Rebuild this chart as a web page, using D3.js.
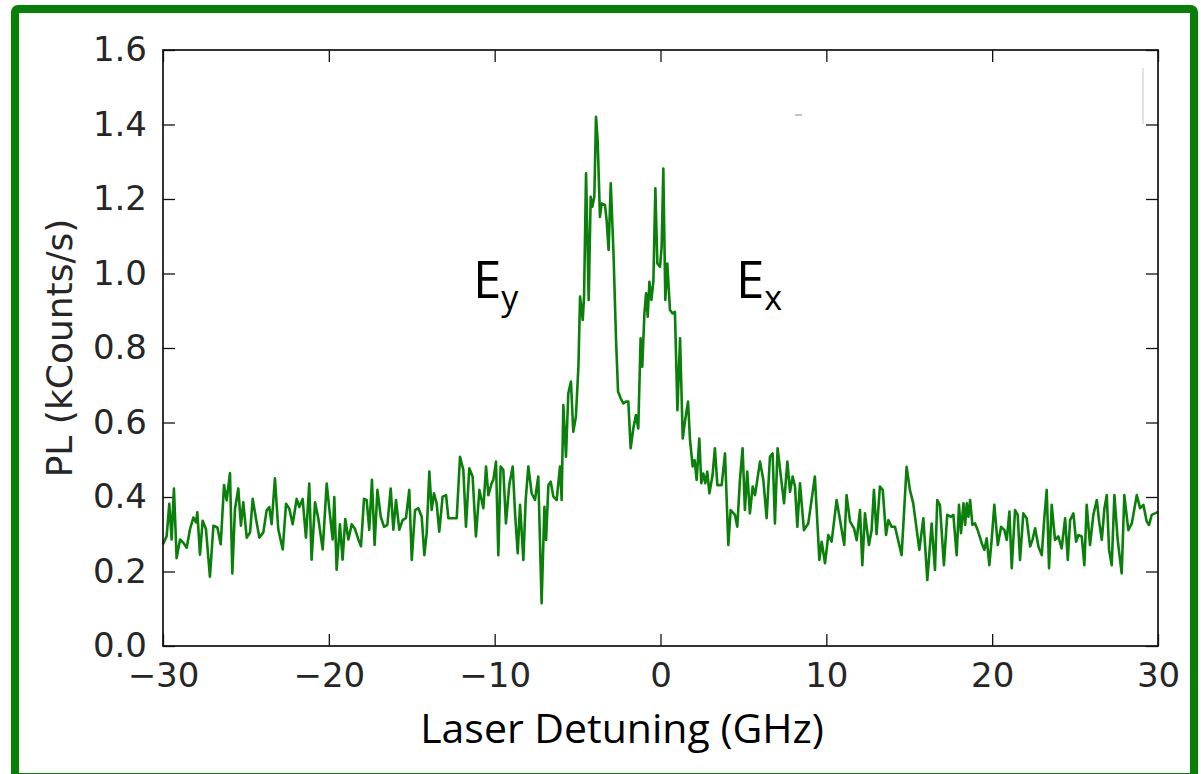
<!DOCTYPE html>
<html>
<head>
<meta charset="utf-8">
<script src="https://cdn.jsdelivr.net/npm/d3@7"></script>
<style>
  body { margin: 0; background: #fff; }
  svg { display: block; }
</style>
</head>
<body>
<svg id="chart"></svg>
<script>
var width = 1201, height = 774;

// PL scan: [detuning (GHz), PL (kCounts/s)]
var scan = [
  [-30,0.273],[-29.78,0.295],[-29.62,0.382],[-29.48,0.286],[-29.34,0.423],[-29.18,0.236],[-28.97,0.286],[-28.77,0.277],
  [-28.57,0.264],[-28.37,0.314],[-28.17,0.345],[-28.01,0.332],[-27.93,0.359],[-27.77,0.245],[-27.61,0.336],[-27.41,0.314],
  [-27.17,0.186],[-26.96,0.323],[-26.72,0.318],[-26.52,0.273],[-26.32,0.432],[-26.16,0.391],[-25.96,0.464],[-25.82,0.195],
  [-25.66,0.368],[-25.46,0.423],[-25.30,0.323],[-25.16,0.386],[-24.95,0.291],[-24.75,0.305],[-24.59,0.395],[-24.39,0.341],
  [-24.19,0.291],[-23.95,0.305],[-23.75,0.364],[-23.59,0.373],[-23.45,0.327],[-23.25,0.45],[-23.05,0.314],[-22.78,0.259],
  [-22.58,0.382],[-22.38,0.368],[-22.18,0.327],[-21.94,0.395],[-21.78,0.373],[-21.58,0.395],[-21.38,0.291],[-21.18,0.436],
  [-21.04,0.232],[-20.83,0.386],[-20.63,0.341],[-20.37,0.259],[-20.13,0.436],[-19.97,0.368],[-19.77,0.286],[-19.67,0.4],
  [-19.53,0.205],[-19.33,0.327],[-19.17,0.232],[-19.01,0.341],[-18.82,0.286],[-18.62,0.327],[-18.42,0.314],[-18.22,0.286],
  [-18.06,0.268],[-17.88,0.395],
  [-17.72,0.392],[-17.56,0.312],[-17.40,0.446],[-17.24,0.271],[-17.07,0.419],[-16.87,0.347],[-16.67,0.32],[-16.47,0.325],
  [-16.27,0.423],[-16.11,0.312],[-15.95,0.392],[-15.75,0.312],[-15.55,0.338],[-15.35,0.343],[-15.15,0.419],[-15.00,0.231],
  [-14.80,0.365],[-14.60,0.37],[-14.40,0.347],[-14.24,0.244],[-14.10,0.303],[-13.94,0.468],[-13.80,0.365],[-13.66,0.41],
  [-13.50,0.383],[-13.34,0.307],[-13.14,0.401],[-12.93,0.405],[-12.79,0.343],[-12.53,0.343],[-12.29,0.343],[-12.09,0.508],
  [-11.89,0.473],[-11.73,0.32],[-11.53,0.477],[-11.33,0.455],[-11.13,0.294],[-10.92,0.419],[-10.68,0.37],[-10.52,0.482],
  [-10.38,0.405],[-10.18,0.437],[-10.08,0.446],[-9.92,0.495],[-9.78,0.244],[-9.64,0.482],[-9.48,0.473],[-9.32,0.329],
  [-9.12,0.432],[-8.91,0.482],[-8.77,0.356],[-8.61,0.249],[-8.47,0.379],[-8.27,0.231],[-8.13,0.392],[-7.97,0.482],
  [-7.77,0.41],[-7.57,0.392],[-7.37,0.455],[-7.17,0.115],[-7.00,0.374],[-6.90,0.285],[-6.76,0.432],[-6.62,0.441],
  [-6.46,0.401],[-6.26,0.392],
  [-6.06,0.482],[-5.96,0.392],[-5.86,0.647],[-5.70,0.508],[-5.56,0.678],[-5.40,0.71],[-5.26,0.575],[-5.10,0.616],
  [-4.95,0.75],[-4.85,0.938],[-4.69,0.875],[-4.61,0.938],[-4.49,1.269],[-4.33,0.929],[-4.21,1.206],[-4.11,1.179],
  [-3.99,1.206],[-3.89,1.421],[-3.79,1.358],[-3.65,1.152],[-3.55,1.188],[-3.35,1.184],[-3.25,1.144],[-3.13,1.063],
  [-3.00,1.242],[-2.84,1.063],[-2.68,0.821],[-2.56,0.683],[-2.40,0.665],[-2.24,0.651],[-2.10,0.656],[-1.94,0.656],
  [-1.80,0.531],[-1.64,0.584],[-1.48,0.62],[-1.34,0.584],[-1.20,0.826],[-1.10,0.75],[-0.97,0.893],[-0.87,0.947],
  [-0.77,0.884],[-0.67,0.978],[-0.55,0.929],[-0.43,0.978],[-0.31,1.229],[-0.19,1.027],[-0.03,1.018],[0.07,1.072],
  [0.17,1.282],[0.29,0.929],[0.41,1.027],[0.57,0.902],[0.73,0.893],[0.87,0.897],[1.02,0.633],[1.18,0.826],
  [1.34,0.557],[1.50,0.611],[1.66,0.656],[1.78,0.553],[1.94,0.482],[2.06,0.499],[2.18,0.446],[2.34,0.557],
  [2.46,0.437],[2.58,0.463],[2.70,0.437],[2.82,0.468],[2.95,0.41],
  [3.14,0.459],[3.28,0.531],[3.43,0.432],[3.69,0.432],[3.89,0.517],[4.09,0.271],[4.23,0.365],[4.49,0.352],
  [4.63,0.32],[4.79,0.446],[4.95,0.531],[5.09,0.365],[5.23,0.468],[5.39,0.356],[5.56,0.428],[5.70,0.405],
  [6.00,0.495],[6.20,0.446],[6.40,0.343],[6.60,0.508],[6.76,0.517],[6.90,0.329],[7.06,0.531],[7.45,0.383],
  [7.65,0.495],[7.81,0.414],[7.97,0.455],[8.11,0.428],[8.25,0.32],[8.41,0.437],[8.65,0.311],[8.91,0.329],
  [9.31,0.455],[9.58,0.231],[9.72,0.28],[9.92,0.222],[10.12,0.298],[10.32,0.28],[10.62,0.392],[11.08,0.271],
  [11.22,0.405],[11.43,0.334],[11.67,0.316],[11.83,0.284],[12.03,0.365],[12.17,0.217],[12.33,0.356],[12.57,0.271],
  [12.73,0.311],[12.87,0.419],[13.03,0.3],[13.23,0.428],[13.40,0.419],[13.60,0.298],[13.74,0.338],[13.94,0.32],
  [14.14,0.32],[14.54,0.244],[14.84,0.481],[15.04,0.419],[15.24,0.383],[15.61,0.258],[15.85,0.343],[16.09,0.177],
  [16.35,0.329],[16.55,0.204],[16.69,0.392],[16.85,0.378],[17.09,0.217],[17.29,0.352],
  [17.52,0.347],[17.66,0.352],[17.86,0.244],[18.00,0.379],[18.12,0.303],[18.27,0.383],[18.37,0.325],[18.47,0.383],
  [18.57,0.347],[18.67,0.392],[18.81,0.325],[18.97,0.329],[19.13,0.311],[19.37,0.276],[19.53,0.258],[19.67,0.289],
  [19.83,0.217],[19.97,0.285],[20.13,0.379],[20.34,0.271],[20.54,0.32],[20.74,0.311],[20.88,0.285],[21.04,0.361],
  [21.18,0.209],[21.38,0.365],[21.54,0.352],[21.68,0.231],[21.88,0.356],[22.08,0.343],[22.29,0.267],[22.43,0.285],
  [22.59,0.316],[22.79,0.267],[22.99,0.244],[23.15,0.347],[23.29,0.419],[23.43,0.209],[23.59,0.379],[23.79,0.285],
  [23.99,0.294],[24.19,0.262],[24.40,0.343],[24.56,0.231],[24.70,0.338],[24.90,0.356],[25.06,0.28],[25.20,0.298],
  [25.40,0.294],[25.56,0.217],[25.70,0.379],[25.90,0.271],[26.10,0.352],[26.31,0.392],[26.45,0.334],[26.61,0.285],
  [26.77,0.37],[26.91,0.405],[27.05,0.258],[27.21,0.217],[27.37,0.405],[27.57,0.285],[27.81,0.195],[27.97,0.405],
  [28.21,0.311],[28.42,0.329],[28.72,0.405],[28.92,0.37],[29.12,0.379],[29.32,0.334],[29.46,0.325],[29.62,0.352],
  [29.82,0.356],[30,0.36]
];

var xTicks = [-30, -20, -10, 0, 10, 20, 30];
var yTicks = [0, 0.2, 0.4, 0.6, 0.8, 1.0, 1.2, 1.4, 1.6];
var xLabel = "Laser Detuning (GHz)";
var yLabel = "PL (kCounts/s)";
var peakNames = [{ main: "E", sub: "y" }, { main: "E", sub: "x" }];

var svg = d3.select("#chart")
    .attr("width", width)
    .attr("height", height)
    .style("font-family", "'DejaVu Sans', sans-serif");

// green slide frame
svg.append("rect")
    .attr("x", 15)
    .attr("y", 9)
    .attr("width", 1179)
    .attr("height", 768)
    .attr("rx", 3)
    .attr("fill", "none")
    .attr("stroke", "#078007")
    .attr("stroke-width", 8);

var plot = { left: 163, top: 50, right: 1158, bottom: 646 };

var x = d3.scaleLinear().domain([-30, 30]).range([plot.left, plot.right]);
var y = d3.scaleLinear().domain([0, 1.6]).range([plot.bottom, plot.top]);

var tickLen = 12;

function styleAxis(g) {
    g.select(".domain").remove();
    g.selectAll(".tick line").attr("stroke", "#111").attr("stroke-width", 1.3);
    g.selectAll(".tick text")
        .attr("fill", "#262626")
        .style("font-size", "34px")
        .style("font-family", "'DejaVu Sans', sans-serif");
}

svg.append("g")
    .attr("transform", "translate(0," + plot.bottom + ")")
    .call(d3.axisBottom(x).tickValues(xTicks).tickSizeInner(-tickLen).tickSizeOuter(0)
        .tickPadding(17).tickFormat(d3.format("d")))
    .call(styleAxis);

svg.append("g")
    .attr("transform", "translate(0," + plot.top + ")")
    .call(d3.axisTop(x).tickValues(xTicks).tickSizeInner(-tickLen).tickSizeOuter(0).tickFormat(""))
    .call(styleAxis);

svg.append("g")
    .attr("transform", "translate(" + plot.left + ",0)")
    .call(d3.axisLeft(y).tickValues(yTicks).tickSizeInner(-tickLen).tickSizeOuter(0)
        .tickPadding(16).tickFormat(d3.format(".1f")))
    .call(styleAxis);

svg.append("g")
    .attr("transform", "translate(" + plot.right + ",0)")
    .call(d3.axisRight(y).tickValues(yTicks).tickSizeInner(-tickLen).tickSizeOuter(0).tickFormat(""))
    .call(styleAxis);

// trace
var line = d3.line()
    .x(function(d) { return x(d[0]); })
    .y(function(d) { return y(d[1]); });

svg.append("path")
    .datum(scan)
    .attr("d", line)
    .attr("fill", "none")
    .attr("stroke", "#0a800a")
    .attr("stroke-width", 2.6)
    .attr("stroke-linejoin", "round");

// axes box
svg.append("rect")
    .attr("x", plot.left)
    .attr("y", plot.top)
    .attr("width", plot.right - plot.left)
    .attr("height", plot.bottom - plot.top)
    .attr("fill", "none")
    .attr("stroke", "#111")
    .attr("stroke-width", 1.7);

// small stray marks from the original slide
svg.append("line")
    .attr("x1", 1143).attr("x2", 1143).attr("y1", 68).attr("y2", 124)
    .attr("stroke", "#c8c8c8").attr("stroke-width", 1);
svg.append("line")
    .attr("x1", 795).attr("x2", 802).attr("y1", 115).attr("y2", 115)
    .attr("stroke", "#888").attr("stroke-width", 1);

// axis labels
svg.append("text")
    .attr("transform", "translate(72," + ((plot.top + plot.bottom) / 2) + ") rotate(-90)")
    .attr("text-anchor", "middle")
    .attr("fill", "#262626")
    .style("font-size", "36px")
    .text(yLabel);

svg.append("text")
    .attr("x", 622)
    .attr("y", 743)
    .attr("text-anchor", "middle")
    .attr("fill", "#000")
    .style("font-family", "'Open Sans', sans-serif")
    .style("font-size", "41px")
    .text(xLabel);

// peak labels
var peakPos = [[473, 298], [736, 298]];
peakNames.forEach(function(p, i) {
    var t = svg.append("text")
        .attr("x", peakPos[i][0])
        .attr("y", peakPos[i][1])
        .attr("fill", "#000")
        .style("font-family", "'Open Sans', sans-serif")
        .style("font-size", "51px")
        .text(p.main);
    t.append("tspan")
        .attr("dy", 12)
        .style("font-size", "34px")
        .text(p.sub);
});
</script>
</body>
</html>
